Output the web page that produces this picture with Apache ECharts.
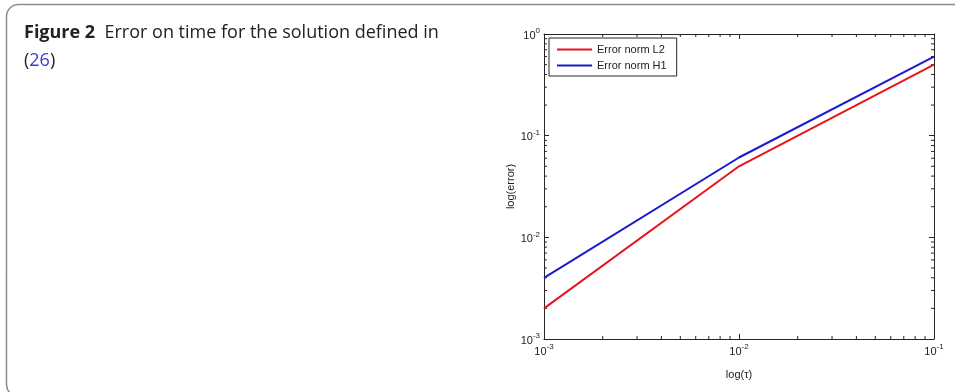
<!DOCTYPE html>
<html>
<head>
<meta charset="utf-8">
<script src="https://cdn.jsdelivr.net/npm/echarts@6/dist/echarts.min.js"></script>
<style>
  html, body { margin: 0; padding: 0; background: #fff; }
  #main { width: 955px; height: 392px; }
</style>
</head>
<body>
<div id="main"></div>
<script>
// time steps tau and errors
var tau = [0.001, 0.01, 0.1];
var errL2 = [0.002, 0.05, 0.5];
var errH1 = [0.004, 0.061, 0.6];
var seriesNames = ['Error norm L2', 'Error norm H1'];
// minor tick mantissas and decades for the log axes
var minorMant = [2, 3, 4, 5, 6, 7, 8, 9];
var xDecades = [-3, -2];
var yDecades = [-3, -2, -1];

var axisColor = '#262626';
var font = 'Liberation Sans';

var chart = echarts.init(document.getElementById('main'));

let minorData = [];
xDecades.forEach(d => {
    minorMant.forEach(m => {
        let v = m * Math.pow(10, d);
        minorData.push([v, 0.001, 0]);
        minorData.push([v, 1, 1]);
    });
});
yDecades.forEach(d => {
    minorMant.forEach(m => {
        let v = m * Math.pow(10, d);
        minorData.push([0.001, v, 2]);
        minorData.push([0.1, v, 3]);
    });
});

const expLabel = (value) => {
    let e = Math.round(Math.log10(value));
    return '{b|10}{s|' + e + '}';
};
// base sits at the bottom of the line, exponent at the top
const labelRich = {
    b: { fontFamily: font, fontSize: 11, color: '#222', lineHeight: 14, verticalAlign: 'bottom' },
    s: { fontFamily: font, fontSize: 8, color: '#222', verticalAlign: 'top' }
};

chart.setOption({
    animation: false,
    graphic: [
        {
            type: 'rect',
            shape: { x: 6.5, y: 4.5, width: 1000, height: 392, r: 12 },
            style: { fill: 'none', stroke: '#8c8c8c', lineWidth: 1.5 },
            silent: true
        },
        {
            type: 'text',
            left: 24,
            top: 19,
            style: {
                text: '{b|Figure 2}  Error on time for the solution defined in\n({l|26})',
                fontFamily: 'Open Sans',
                fontSize: 18,
                lineHeight: 28,
                fill: '#222',
                rich: {
                    b: { fontFamily: 'Open Sans', fontSize: 18, fontWeight: 'bold', fill: '#222', lineHeight: 28 },
                    l: { fontFamily: 'Open Sans', fontSize: 18, fill: '#3a3ad8', lineHeight: 28 }
                }
            }
        }
    ],
    grid: { left: 544, top: 34, right: 21, bottom: 53, containLabel: false },
    legend: {
        data: seriesNames,
        orient: 'vertical',
        left: 549,
        top: 38,
        padding: [6, 10, 5, 8],
        itemGap: 5,
        itemWidth: 35,
        itemHeight: 2,
        icon: 'rect',
        borderColor: axisColor,
        borderWidth: 1,
        backgroundColor: '#fff',
        textStyle: { fontFamily: font, fontSize: 11, color: '#222' }
    },
    xAxis: [
        {
            type: 'log', logBase: 10, min: 0.001, max: 0.1,
            name: 'log(τ)', nameLocation: 'middle', nameGap: 30,
            nameTextStyle: { fontFamily: font, fontSize: 11, color: '#222' },
            axisLine: { lineStyle: { color: axisColor, width: 1 } },
            axisTick: { inside: true, length: 5, lineStyle: { color: axisColor } },
            axisLabel: { formatter: expLabel, rich: labelRich, margin: 4 },
            splitLine: { show: false },
            minorTick: { show: false }
        },
        {
            type: 'log', logBase: 10, min: 0.001, max: 0.1, position: 'top',
            axisLine: { lineStyle: { color: axisColor, width: 1 } },
            axisTick: { inside: true, length: 5, lineStyle: { color: axisColor } },
            axisLabel: { show: false },
            splitLine: { show: false }
        }
    ],
    yAxis: [
        {
            type: 'log', logBase: 10, min: 0.001, max: 1,
            name: 'log(error)', nameLocation: 'middle', nameGap: 26,
            nameTextStyle: { fontFamily: font, fontSize: 11, color: '#222' },
            axisLine: { lineStyle: { color: axisColor, width: 1 } },
            axisTick: { inside: true, length: 5, lineStyle: { color: axisColor } },
            axisLabel: { formatter: expLabel, rich: labelRich, margin: 4 },
            splitLine: { show: false }
        },
        {
            type: 'log', logBase: 10, min: 0.001, max: 1, position: 'right',
            axisLine: { lineStyle: { color: axisColor, width: 1 } },
            axisTick: { inside: true, length: 5, lineStyle: { color: axisColor } },
            axisLabel: { show: false },
            splitLine: { show: false }
        }
    ],
    series: [
        {
            name: seriesNames[0],
            type: 'line',
            data: tau.map((t, i) => [t, errL2[i]]),
            showSymbol: false,
            color: '#e8141b',
            lineStyle: { width: 2 },
            z: 3
        },
        {
            name: seriesNames[1],
            type: 'line',
            data: tau.map((t, i) => [t, errH1[i]]),
            showSymbol: false,
            color: '#1a1ad0',
            lineStyle: { width: 2 },
            z: 3
        },
        {
            type: 'custom',
            silent: true,
            clip: false,
            z: 1,
            data: minorData,
            renderItem: function (params, api) {
                let p = api.coord([api.value(0), api.value(1)]);
                let side = api.value(2);
                let len = 3;
                let dx = 0, dy = 0;
                if (side === 0) dy = -len;
                else if (side === 1) dy = len;
                else if (side === 2) dx = len;
                else dx = -len;
                return {
                    type: 'line',
                    shape: { x1: p[0], y1: p[1], x2: p[0] + dx, y2: p[1] + dy },
                    style: { stroke: axisColor, lineWidth: 1 }
                };
            }
        }
    ]
});
</script>
</body>
</html>
